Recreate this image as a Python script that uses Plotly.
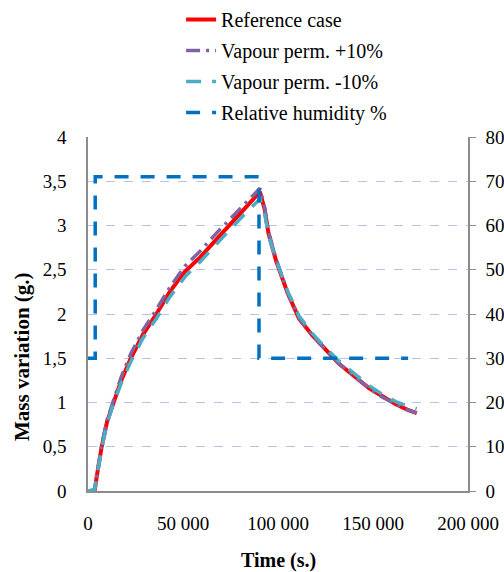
import plotly.graph_objects as go

# Time (s) for mass curves
T = [0, 3500, 4500, 5500, 7200, 10000, 13300, 17500, 22500, 29000, 36000, 43000,
     51000, 59000, 67000, 75000, 83000, 90500, 93000, 95000, 99000, 105000, 111000,
     118000, 125000, 132000, 140000, 148000, 155000, 162000, 168000, 173000]
REF = [0, 0, 0.15, 0.3, 0.5, 0.78, 1.0, 1.25, 1.5, 1.77, 2.0, 2.25,
       2.48, 2.64, 2.83, 3.02, 3.2, 3.38, 3.18, 2.91, 2.6, 2.24, 1.95,
       1.76, 1.6, 1.44, 1.3, 1.16, 1.07, 0.98, 0.92, 0.88]
PLUS = [0, 0, 0.16, 0.32, 0.52, 0.8, 1.03, 1.29, 1.55, 1.82, 2.05, 2.3,
        2.54, 2.71, 2.9, 3.08, 3.26, 3.42, 3.2, 2.93, 2.62, 2.25, 1.96,
        1.76, 1.6, 1.44, 1.3, 1.16, 1.06, 0.98, 0.92, 0.88]
MINUS = [0, 0.02, 0.14, 0.28, 0.48, 0.76, 0.98, 1.22, 1.46, 1.73, 1.95, 2.19,
         2.42, 2.59, 2.78, 2.96, 3.14, 3.3, 3.13, 2.89, 2.61, 2.26, 1.98,
         1.78, 1.62, 1.47, 1.33, 1.19, 1.09, 1.01, 0.96, 0.93]

# Relative humidity (%)
T_RH = [0, 3800, 3800, 90000, 90000, 168500]
RH = [30, 30, 71, 71, 30, 30]

NAMES = ["Reference case", "Vapour perm. +10%", "Vapour perm. -10%", "Relative humidity %"]
X_TICKS = [0, 50000, 100000, 150000, 200000]

FONT = "'Liberation Serif', 'Times New Roman', Times, serif"

fig = go.Figure()
fig.add_trace(go.Scatter(x=T, y=REF, name=NAMES[0], mode="lines", legendgroup="a",
                         line=dict(color="#FF0000", width=4)))
fig.add_trace(go.Scatter(x=T, y=PLUS, name=NAMES[1], mode="lines", legendgroup="b",
                         line=dict(color="#8064A2", width=3.5, dash="14px,6px,3px,6px")))
fig.add_trace(go.Scatter(x=T, y=MINUS, name=NAMES[2], mode="lines", legendgroup="c",
                         line=dict(color="#4BACC6", width=3.5, dash="15px,11px")))
fig.add_trace(go.Scatter(x=T_RH, y=RH, name=NAMES[3], mode="lines", legendgroup="d",
                         yaxis="y2", line=dict(color="#0070C0", width=3.5, dash="14px,12px")))

fig.update_layout(
    width=504, height=572,
    margin=dict(l=88, r=36, t=137, b=81, autoexpand=False),
    paper_bgcolor="white", plot_bgcolor="white",
    separators=", ",
    font=dict(family=FONT, size=18, color="black"),
    showlegend=True,
    legend=dict(x=0.245, y=1.0, xanchor="left", yanchor="top", yref="container",
                font=dict(family=FONT, size=20, color="black"),
                tracegroupgap=2, bgcolor="rgba(0,0,0,0)"),
    xaxis=dict(range=[0, 200000], tickvals=X_TICKS, tickformat=",d",
               showgrid=False, zeroline=False, showline=True, linecolor="#8C8C8C",
               linewidth=1.5, ticks="", ticklabelstandoff=14,
               tickfont=dict(family=FONT, size=19)),
    yaxis=dict(range=[0, 4], dtick=0.5, showgrid=True, gridcolor="#B4C6E7",
               griddash="dash", gridwidth=1, zeroline=False, showline=True,
               linecolor="#8C8C8C", linewidth=1.5, ticks="", ticklabelstandoff=16,
               tickfont=dict(family=FONT, size=19)),
    yaxis2=dict(range=[0, 80], dtick=10, overlaying="y", side="right",
                showgrid=False, zeroline=False, showline=True, linecolor="#8C8C8C",
                linewidth=1.5, ticks="outside", ticklen=6, tickcolor="#8C8C8C",
                ticklabelstandoff=6, tickfont=dict(family=FONT, size=19)),
    annotations=[
        dict(text="<b>Mass variation (g.)</b>", textangle=-90, xref="paper", yref="paper",
             x=-0.174, y=0.381, xanchor="center", yanchor="middle", showarrow=False,
             font=dict(family=FONT, size=21, color="black")),
        dict(text="<b>Time (s.)</b>", xref="paper", yref="paper",
             x=0.5, y=-0.195, xanchor="center", yanchor="middle", showarrow=False,
             font=dict(family=FONT, size=20, color="black")),
    ],
)

fig.write_html("out.html")
